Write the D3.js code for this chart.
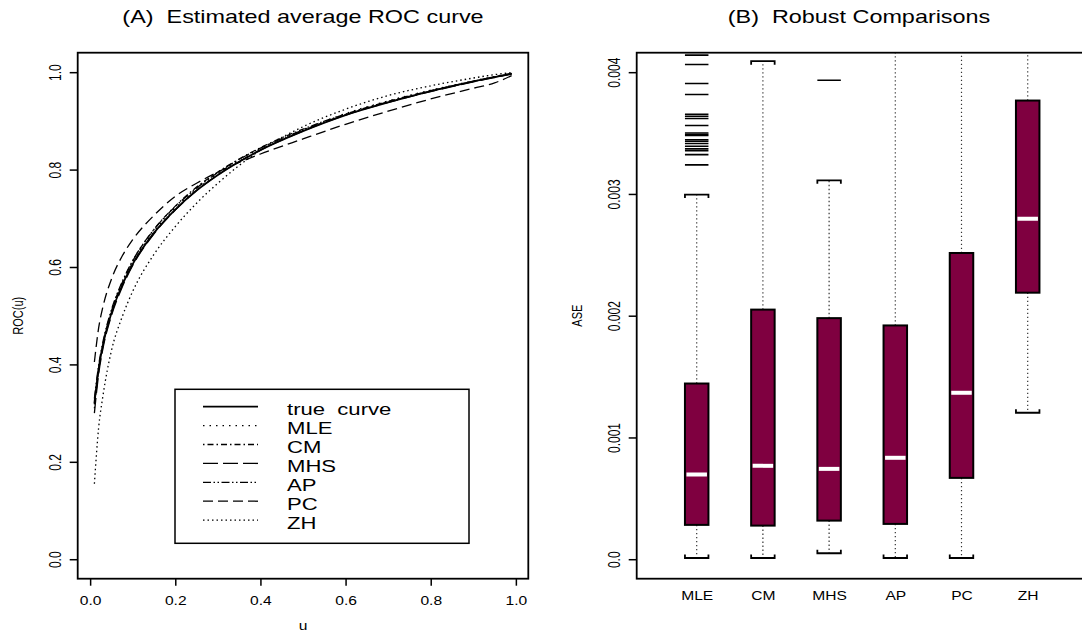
<!DOCTYPE html>
<html>
<head>
<meta charset="utf-8">
<script src="https://cdn.jsdelivr.net/npm/d3@7"></script>
<style>
  body { margin: 0; background: #fff; }
  svg { display: block; font-family: "Liberation Sans", Arial, sans-serif; }
  text { white-space: pre; }
</style>
</head>
<body>
<svg id="chart" width="1082" height="635"></svg>
<script>
// panel A: average ROC curves
const uGrid   = [0.01, 0.02, 0.03, 0.05, 0.075, 0.1, 0.15, 0.2, 0.25, 0.3, 0.4, 0.5, 0.6, 0.7, 0.8, 0.9, 0.95, 0.99];
const rocTrue = [0.320, 0.391, 0.439, 0.505, 0.562, 0.606, 0.670, 0.718, 0.757, 0.789, 0.840, 0.879, 0.912, 0.938, 0.961, 0.981, 0.990, 0.997];
const rocMLE  = [0.318, 0.392, 0.441, 0.508, 0.565, 0.609, 0.673, 0.721, 0.760, 0.792, 0.843, 0.882, 0.915, 0.941, 0.963, 0.982, 0.991, 0.998];
const rocCM   = [0.310, 0.388, 0.440, 0.509, 0.567, 0.612, 0.677, 0.725, 0.764, 0.795, 0.845, 0.883, 0.914, 0.940, 0.962, 0.981, 0.990, 0.997];
const rocMHS  = [0.300, 0.380, 0.432, 0.500, 0.558, 0.603, 0.668, 0.717, 0.757, 0.789, 0.840, 0.879, 0.912, 0.938, 0.960, 0.980, 0.989, 0.996];
const rocAP   = [0.330, 0.398, 0.446, 0.512, 0.569, 0.613, 0.677, 0.724, 0.762, 0.794, 0.844, 0.881, 0.913, 0.939, 0.961, 0.981, 0.990, 0.997];
const rocPC   = [0.405, 0.475, 0.518, 0.575, 0.622, 0.656, 0.706, 0.745, 0.772, 0.795, 0.832, 0.863, 0.893, 0.920, 0.945, 0.967, 0.978, 0.993];
const rocZH   = [0.155, 0.270, 0.335, 0.428, 0.497, 0.550, 0.626, 0.683, 0.731, 0.772, 0.840, 0.888, 0.924, 0.952, 0.972, 0.988, 0.995, 0.999];
const seriesNames = ["true  curve", "MLE", "CM", "MHS", "AP", "PC", "ZH"];
const rocTicks = [0, 0.2, 0.4, 0.6, 0.8, 1.0];

// panel B: boxplots of ASE
const methods   = ["MLE", "CM", "MHS", "AP", "PC", "ZH"];
const whiskerLo = [0.00001, 0.00001, 0.000049, 0.00001, 0.00001, 0.001203];
const boxQ1     = [0.000282, 0.000276, 0.000317, 0.000290, 0.000668, 0.002189];
const boxMed    = [0.000695, 0.000767, 0.000742, 0.000833, 0.001367, 0.002797];
const boxQ3     = [0.001443, 0.002050, 0.001980, 0.001920, 0.002515, 0.003767];
const whiskerHi = [0.002995, 0.004090, 0.003112, 0.004600, 0.004800, 0.005200];
const outMLE = [0.004140, 0.004063, 0.003907, 0.003817, 0.003655, 0.003638, 0.003619, 0.003562,
                0.003500, 0.003488, 0.003480, 0.003445, 0.003433, 0.003414, 0.003392, 0.003370,
                0.003355, 0.003323, 0.003239];
const outMHS = [0.003934];
const outliers = [outMLE, [], outMHS, [], [], []];
const aseTicks = [0, 0.001, 0.002, 0.003, 0.004];

const sx = 1.3; // the picture is stretched sideways, text too
const svg = d3.select("#chart");

function putText(x, y, str, size, rot) {
  return svg.append("text")
    .attr("transform", `translate(${x},${y}) scale(${sx},1)` + (rot ? " rotate(-90)" : ""))
    .attr("text-anchor", "middle")
    .attr("font-size", size)
    .text(str);
}

// ---------- panel A ----------
const A = {left: 77.7, right: 528.3, top: 52.7, bottom: 578.7};
const xA = d3.scaleLinear().domain([-0.0292, 1.0292]).range([A.left, A.right]);
const yA = d3.scaleLinear().domain([-0.04, 1.04]).range([A.bottom, A.top]);

const series = [
  {vals: rocTrue, dash: null,                          w: 1.8},
  {vals: rocMLE,  dash: "1.5,5",                        w: 1.3},
  {vals: rocCM,   dash: "1.5,3,6,3",                    w: 1.3},
  {vals: rocMHS,  dash: "15,5",                         w: 1.3},
  {vals: rocAP,   dash: "8,2.5,1.5,2.5,1.5,2.5",        w: 1.3},
  {vals: rocPC,   dash: "10,5",                         w: 1.3},
  {vals: rocZH,   dash: "1.5,3",                        w: 1.3}
];

const rocLine = d3.line()
  .x((d, i) => xA(uGrid[i]))
  .y(d => yA(d))
  .curve(d3.curveMonotoneX);

svg.append("g").selectAll("path")
  .data(series)
  .enter()
  .append("path")
  .attr("d", d => rocLine(d.vals))
  .attr("fill", "none")
  .attr("stroke", "#000")
  .attr("stroke-width", d => d.w)
  .attr("stroke-dasharray", d => d.dash);

const gxA = svg.append("g")
  .attr("transform", `translate(0,${A.bottom})`)
  .call(d3.axisBottom(xA).tickValues(rocTicks).tickSize(7).tickFormat(d3.format(".1f")));
const gyA = svg.append("g")
  .attr("transform", `translate(${A.left},0)`)
  .call(d3.axisLeft(yA).tickValues(rocTicks).tickSize(8).tickFormat(d3.format(".1f")));

// ---------- panel B ----------
const B = {left: 636.7, right: 1084, top: 52.7, bottom: 578.7};
const xB = d3.scalePoint().domain(methods).range([696.7, 1027.7]);
const yB = d3.scaleLinear().domain([-0.00016, 0.00416]).range([B.bottom, B.top]);
const bw = 23.5;

svg.append("clipPath").attr("id", "clipB")
  .append("rect")
  .attr("x", B.left).attr("y", B.top)
  .attr("width", B.right - B.left).attr("height", B.bottom - B.top);

const gB = svg.append("g").attr("clip-path", "url(#clipB)");
const boxes = gB.selectAll("g.box")
  .data(methods)
  .enter()
  .append("g")
  .attr("class", "box");

// whiskers
boxes.append("line")
  .attr("x1", d => xB(d)).attr("x2", d => xB(d))
  .attr("y1", (d, i) => yB(boxQ3[i])).attr("y2", (d, i) => yB(whiskerHi[i]))
  .attr("stroke", "#333").attr("stroke-width", 1.2).attr("stroke-dasharray", "1.3,2.7");
boxes.append("line")
  .attr("x1", d => xB(d)).attr("x2", d => xB(d))
  .attr("y1", (d, i) => yB(boxQ1[i])).attr("y2", (d, i) => yB(whiskerLo[i]))
  .attr("stroke", "#333").attr("stroke-width", 1.2).attr("stroke-dasharray", "1.3,2.7");

// caps
boxes.append("path")
  .attr("d", (d, i) => {
    const x = xB(d), y = yB(whiskerHi[i]);
    return `M${x - bw / 2},${y + 3.5}V${y}H${x + bw / 2}V${y + 3.5}`;
  })
  .attr("fill", "none").attr("stroke", "#000").attr("stroke-width", 1.8);
boxes.append("path")
  .attr("d", (d, i) => {
    const x = xB(d), y = yB(whiskerLo[i]);
    return `M${x - bw / 2},${y - 3.5}V${y}H${x + bw / 2}V${y - 3.5}`;
  })
  .attr("fill", "none").attr("stroke", "#000").attr("stroke-width", 1.8);

// boxes
boxes.append("rect")
  .attr("x", d => xB(d) - bw / 2)
  .attr("width", bw)
  .attr("y", (d, i) => yB(boxQ3[i]))
  .attr("height", (d, i) => yB(boxQ1[i]) - yB(boxQ3[i]))
  .attr("fill", "#7f0040")
  .attr("stroke", "#000")
  .attr("stroke-width", 2);

// medians
boxes.append("line")
  .attr("x1", d => xB(d) - bw / 2 + 1.5).attr("x2", d => xB(d) + bw / 2 - 1.5)
  .attr("y1", (d, i) => yB(boxMed[i])).attr("y2", (d, i) => yB(boxMed[i]))
  .attr("stroke", "#fff").attr("stroke-width", 4);

// outliers as dashes
boxes.each(function (d, i) {
  d3.select(this).selectAll("line.out")
    .data(outliers[i])
    .enter()
    .append("line")
    .attr("class", "out")
    .attr("x1", xB(d) - bw / 2).attr("x2", xB(d) + bw / 2)
    .attr("y1", v => yB(v)).attr("y2", v => yB(v))
    .attr("stroke", "#000").attr("stroke-width", 1.6);
});

const gyB = svg.append("g")
  .attr("transform", `translate(${B.left},0)`)
  .call(d3.axisLeft(yB).tickValues(aseTicks).tickSize(8)
    .tickFormat(d => d === 0 ? "0.0" : d3.format(".3f")(d)));
const gxB = svg.append("g")
  .attr("transform", `translate(0,${B.bottom})`)
  .call(d3.axisBottom(xB).tickSize(0));

// ---------- axis styling ----------
[gxA, gyA, gyB, gxB].forEach(g => {
  g.attr("font-family", null).attr("font-size", 12);
  g.select(".domain").remove();
  g.selectAll(".tick line").attr("stroke", "#000").attr("stroke-width", 1.5);
});
gxA.selectAll(".tick text")
  .attr("y", 0).attr("dy", null).attr("fill", "#000")
  .attr("transform", `translate(0,26.5) scale(${sx},1)`);
gxB.selectAll(".tick text")
  .attr("y", 0).attr("dy", null).attr("fill", "#000")
  .attr("transform", `translate(0,${599.5 - B.bottom}) scale(${sx},1)`);
[gyA, gyB].forEach(g => {
  g.selectAll(".tick text")
    .attr("x", 0).attr("y", 0).attr("dy", null).attr("fill", "#000")
    .attr("text-anchor", "middle")
    .attr("transform", `translate(-17,0) scale(${sx},1) rotate(-90)`);
});

// frames
[A, B].forEach(p => {
  svg.append("rect")
    .attr("x", p.left).attr("y", p.top)
    .attr("width", p.right - p.left).attr("height", p.bottom - p.top)
    .attr("fill", "none").attr("stroke", "#000").attr("stroke-width", 1.8);
});

// ---------- legend ----------
const L = {left: 175, top: 389.3, right: 469, bottom: 543.3, row0: 406.7, step: 18.9};
svg.append("rect")
  .attr("x", L.left).attr("y", L.top)
  .attr("width", L.right - L.left).attr("height", L.bottom - L.top)
  .attr("fill", "#fff").attr("stroke", "#000").attr("stroke-width", 1.5);
const leg = svg.append("g").selectAll("g")
  .data(seriesNames)
  .enter()
  .append("g")
  .attr("transform", (d, i) => `translate(0,${L.row0 + i * L.step})`);
leg.append("line")
  .attr("x1", 203).attr("x2", 258)
  .attr("stroke", "#000")
  .attr("stroke-width", (d, i) => series[i].w)
  .attr("stroke-dasharray", (d, i) => series[i].dash);
leg.append("text")
  .attr("transform", `translate(287,8.5) scale(${sx},1)`)
  .attr("font-size", 17)
  .text(d => d);

// ---------- titles ----------
putText((A.left + A.right) / 2, 23, "(A)  Estimated average ROC curve", 18);
putText(859, 23, "(B)  Robust Comparisons", 18);
putText((A.left + A.right) / 2, 630, "u", 12);
putText(23, (A.top + A.bottom) / 2, "ROC(u)", 11, true);
putText(582, (B.top + B.bottom) / 2, "ASE", 11, true);
</script>
</body>
</html>
